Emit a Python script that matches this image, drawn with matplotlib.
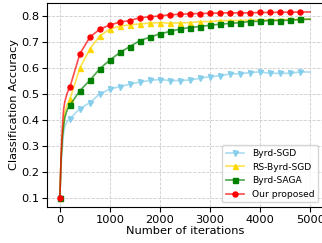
import matplotlib
matplotlib.use('Agg')
import matplotlib.pyplot as plt
from matplotlib.colors import to_rgba

# iterations: dense at the start, then every 200
iters = [0, 25, 50, 75, 100, 150] + list(range(200, 4801, 200)) + [5000]

byrd_sgd = [0.1, 0.22, 0.29, 0.35, 0.375, 0.395,
            0.404, 0.443, 0.466, 0.500, 0.518, 0.528, 0.537, 0.545, 0.552, 0.555,
            0.551, 0.551, 0.553, 0.560, 0.566, 0.569, 0.577, 0.577, 0.582, 0.584,
            0.579, 0.579, 0.579, 0.584, 0.584]
rs_byrd_sgd = [0.1, 0.25, 0.34, 0.39, 0.43, 0.46,
               0.479, 0.599, 0.673, 0.723, 0.749, 0.761, 0.765, 0.769, 0.772, 0.774,
               0.772, 0.773, 0.774, 0.778, 0.778, 0.781, 0.782, 0.782, 0.783, 0.784,
               0.784, 0.785, 0.786, 0.787, 0.787]
byrd_saga = [0.1, 0.25, 0.33, 0.375, 0.41, 0.44,
             0.456, 0.512, 0.552, 0.597, 0.630, 0.659, 0.682, 0.705, 0.718, 0.731,
             0.740, 0.749, 0.755, 0.759, 0.764, 0.768, 0.771, 0.774, 0.778, 0.779,
             0.782, 0.782, 0.783, 0.786, 0.787]
ours = [0.1, 0.26, 0.37, 0.44, 0.47, 0.505,
        0.525, 0.654, 0.718, 0.749, 0.765, 0.776, 0.782, 0.793, 0.796, 0.800,
        0.804, 0.806, 0.808, 0.809, 0.810, 0.811, 0.812, 0.811, 0.812, 0.813,
        0.813, 0.814, 0.814, 0.815, 0.815]

labels = ['Byrd-SGD', 'RS-Byrd-SGD', 'Byrd-SAGA', 'Our proposed']
colors = ['skyblue', 'gold', 'green', 'red']
markers = ['v', '^', 's', 'o']

marks = [0] + list(range(6, 30))

fig = plt.figure(figsize=(3.22, 2.43), dpi=100)
ax = fig.add_axes([0.147, 0.148, 0.855, 0.841])

for y, lab, c, m in zip([byrd_sgd, rs_byrd_sgd, byrd_saga, ours], labels, colors, markers):
    ax.plot(iters, y, color=to_rgba(c, 0.7), marker=m, markersize=3.6,
            markerfacecolor=c, markeredgecolor=c, linewidth=1.2,
            markevery=marks, label=lab)

ax.set_xlim(-250, 5250)
ax.grid(True, linestyle='--', color='#cccccc', linewidth=0.6)
ax.set_xlabel('Number of iterations', fontsize=8.2, labelpad=1)
ax.set_ylabel('Classification Accuracy', fontsize=8.2, labelpad=2)
ax.tick_params(labelsize=8.2, pad=2)
ax.legend(loc='lower right', fontsize=6.6)

plt.savefig('out.png', dpi=100)
plt.close()
